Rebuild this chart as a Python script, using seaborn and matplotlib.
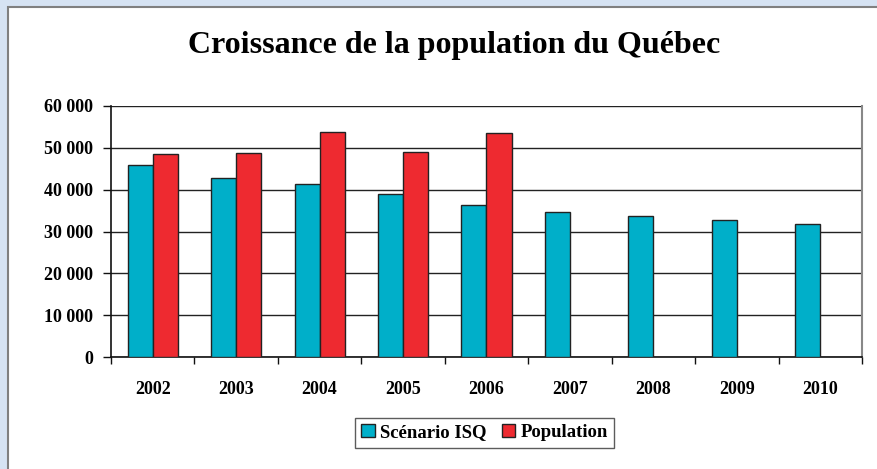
import numpy as np
import pandas as pd
import matplotlib
matplotlib.use("Agg")
import matplotlib.pyplot as plt
import seaborn as sns
from matplotlib.patches import Rectangle
from matplotlib.ticker import FuncFormatter, FixedLocator

# ── Data ──────────────────────────────────────────────────────────────────────
years = ["2002", "2003", "2004", "2005", "2006", "2007", "2008", "2009", "2010"]
scenario_isq = [46000, 42900, 41300, 38900, 36400, 34600, 33800, 32800, 31700]
population = [48600, 48800, 53700, 49100, 53500, np.nan, np.nan, np.nan, np.nan]
series_names = ["Scénario ISQ", "Population"]
colors = ["#00AFC9", "#EE2A30"]

df = pd.DataFrame({
    "year": years * 2,
    "value": scenario_isq + population,
    "series": [series_names[0]] * len(years) + [series_names[1]] * len(years),
})

sns.set_theme(style="white")
plt.rcParams["font.family"] = ["Liberation Serif", "DejaVu Serif"]
plt.rcParams["font.weight"] = "bold"
plt.rcParams["text.color"] = "black"
plt.rcParams["xtick.labelcolor"] = "black"
plt.rcParams["ytick.labelcolor"] = "black"

fig = plt.figure(figsize=(8.78, 4.69), dpi=100)
fig.patch.set_facecolor("#D6E3F3")
# white chart panel with grey frame
fig.patches.append(Rectangle((8 / 878, -0.05), 1.0, 1.05 - 7 / 469,
                             transform=fig.transFigure, facecolor="white",
                             edgecolor="#808080", linewidth=1.5, zorder=-1))

ax = fig.add_axes([111 / 878, 1 - 357 / 469, (862 - 111) / 878, (357 - 106) / 469])
ax.set_facecolor("white")

sns.barplot(data=df, x="year", y="value", hue="series", palette=colors,
            width=0.6, gap=0, edgecolor="#222222", linewidth=1.0,
            saturation=1, ax=ax, legend=True, zorder=3)

ax.set_ylim(0, 60000)
ax.set_xlim(-0.5, len(years) - 0.5)
ax.set_yticks(np.arange(0, 60001, 10000))
ax.yaxis.set_major_formatter(FuncFormatter(lambda v, p: f"{int(v):,}".replace(",", " ")))
ax.yaxis.grid(True, color="#222222", linewidth=1.0, zorder=0)
ax.set_axisbelow(True)

for side in ["left", "bottom"]:
    ax.spines[side].set_color("#111111")
    ax.spines[side].set_linewidth(1.2)
ax.spines["right"].set_color("#888888")
ax.spines["right"].set_linewidth(1.5)
ax.spines["top"].set_visible(False)

# tick marks at the category boundaries, labels at the centres
ax.xaxis.set_minor_locator(FixedLocator(np.arange(-0.5, len(years), 1.0)))
ax.tick_params(axis="x", which="major", length=0, pad=17, labelsize=13)
ax.tick_params(axis="x", which="minor", bottom=True, length=5, width=1, color="#111111")
ax.tick_params(axis="y", left=True, length=6, width=1, color="#111111", pad=7, labelsize=13)
for lab in ax.get_xticklabels() + ax.get_yticklabels():
    lab.set_fontweight("bold")

ax.set_xlabel("")
ax.set_ylabel("")

fig.text(0.517, 0.902, "Croissance de la population du Québec", ha="center", va="center",
         fontsize=23, fontweight="bold", color="black")

handles, labels = ax.get_legend_handles_labels()
ax.get_legend().remove()
leg = fig.legend(handles, labels, loc="center", bbox_to_anchor=(0.552, 0.077), ncol=2,
                 frameon=True, fancybox=False, edgecolor="#333333",
                 handlelength=0.7, handleheight=0.7, handletextpad=0.3, columnspacing=0.8,
                 borderpad=0.35, prop={"weight": "bold", "size": 13.5})
leg.get_frame().set_linewidth(1.0)

fig.savefig("out.png", dpi=100, facecolor=fig.get_facecolor())
